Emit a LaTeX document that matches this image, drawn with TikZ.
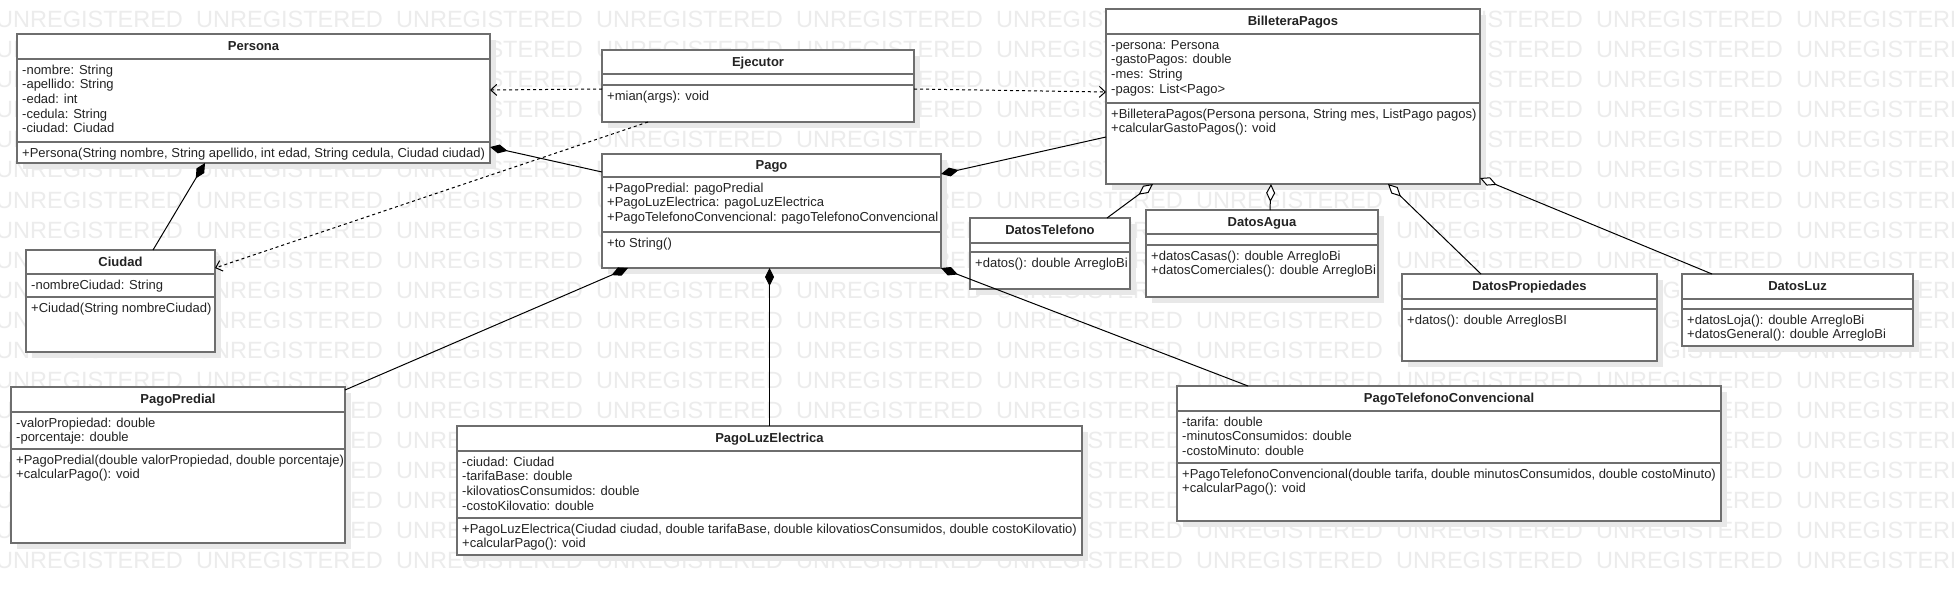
\documentclass[tikz,border=0pt]{standalone}
\usepackage{fontspec}
\setmainfont{Liberation Sans}
\usetikzlibrary{arrows.meta,shadows}

\definecolor{boxgray}{RGB}{110,110,110}
\definecolor{textgray}{RGB}{35,35,35}
\definecolor{wmgray}{RGB}{236,236,236}
\definecolor{shadowgray}{RGB}{232,232,232}

\def\memberfont{\fontsize{13}{14.7}\selectfont}
\def\titlefont{\bfseries\fontsize{13}{14.7}\selectfont}
\def\memstrut{\rule{0pt}{10pt}}
\def\wmtile{\makebox[200pt][l]{UNREGISTERED}}
\def\wmrow{\wmtile\wmtile\wmtile\wmtile\wmtile\wmtile\wmtile\wmtile\wmtile\wmtile}

\begin{document}
\begin{tikzpicture}[x=1pt, y=-1pt,
  nodes = {font=\memberfont, text=textgray},
  classbox/.style = {draw=boxgray, line width=1.3pt, fill=white, anchor=north west,
    inner sep=0pt, outer sep=0pt,
    drop shadow={shadow xshift=6pt, shadow yshift=-6pt, fill=shadowgray, opacity=1}},
  classname/.style = {font=\titlefont, text height=9.5pt, text depth=1pt, inner sep=0pt},
  members/.style = {anchor=north west, align=left, inner sep=0pt},
  watermark/.style = {font=\fontsize{23.5}{23.5}\selectfont, text=wmgray, anchor=base west, inner sep=0pt},
  compose/.style = {draw=black, line width=1pt, {Diamond[length=18pt,width=9pt]}-},
  aggreg/.style = {draw=black, line width=1pt, {Diamond[length=18pt,width=9pt,fill=white]}-},
  depend/.style = {draw=black, line width=1pt, dash pattern=on 3pt off 3pt,
    -{Straight Barb[length=6pt,width=11pt]}}]

\fill[white] (0,0) rectangle (1954,596);
\useasboundingbox (0,0) rectangle (1954,596);

% watermark rows
\foreach \k in {0,...,18}
  \node[watermark] (wm\k) at (-4,{28+30*\k}) {\wmrow};

% class boxes: id/title/left/top/right/bottom/divider 1/divider 2
\foreach \id/\title/\l/\t/\r/\b/\da/\db in {
    persona/Persona/17/34/490/163/59/142,
    ejecutor/Ejecutor/602/50/914/122/74/85,
    pago/Pago/602/154/941/268/177/232,
    billetera/BilleteraPagos/1106/9/1480/184/34/103,
    datostel/DatosTelefono/970/218/1130/289/243/252,
    datosagua/DatosAgua/1146/210/1378/297/234/245,
    datosprop/DatosPropiedades/1402/274/1657/361/299/309,
    datosluz/DatosLuz/1682/274/1913/346/299/309,
    ciudad/Ciudad/26/250/215/352/274/297,
    predial/PagoPredial/11/387/345/543/412/449,
    luz/PagoLuzElectrica/457/426/1082/555/451/518,
    telefono/PagoTelefonoConvencional/1177/386/1721/521/411/463%
  } {
    \node[classbox, minimum width={(\r-\l)*1pt}, minimum height={(\b-\t)*1pt}] (\id) at (\l,\t) {};
    \draw[boxgray, line width=1.3pt] (\l,\da) -- (\r,\da) (\l,\db) -- (\r,\db); % compartments
    \node[classname] (\id-name) at ({(\l+\r)/2},{(\t+\da)/2}) {\title};
  }

% attributes and operations
\node[members] (persona-a) at (22,64) {\memstrut-nombre: String\\-apellido: String\\-edad: int\\-cedula: String\\-ciudad: Ciudad};
\node[members] (persona-m) at (22,147) {\memstrut+Persona(String nombre, String apellido, int edad, String cedula, Ciudad ciudad)};
\node[members] (ejecutor-m) at (607,90) {\memstrut+mian(args): void};
\node[members] (pago-a) at (607,182) {\memstrut+PagoPredial: pagoPredial\\+PagoLuzElectrica: pagoLuzElectrica\\+PagoTelefonoConvencional: pagoTelefonoConvencional};
\node[members] (pago-m) at (607,237) {\memstrut+to String()};
\node[members] (billetera-a) at (1111,39) {\memstrut-persona: Persona\\-gastoPagos: double\\-mes: String\\-pagos: List<Pago>};
\node[members] (billetera-m) at (1111,108) {\memstrut+BilleteraPagos(Persona persona, String mes, ListPago pagos)\\+calcularGastoPagos(): void};
\node[members] (datostel-m) at (975,257) {\memstrut+datos(): double ArregloBi};
\node[members] (datosagua-m) at (1151,250) {\memstrut+datosCasas(): double ArregloBi\\+datosComerciales(): double ArregloBi};
\node[members] (datosprop-m) at (1407,314) {\memstrut+datos(): double ArreglosBI};
\node[members] (datosluz-m) at (1687,314) {\memstrut+datosLoja(): double ArregloBi\\+datosGeneral(): double ArregloBi};
\node[members] (ciudad-a) at (31,279) {\memstrut-nombreCiudad: String};
\node[members] (ciudad-m) at (31,302) {\memstrut+Ciudad(String nombreCiudad)};
\node[members] (predial-a) at (16,417) {\memstrut-valorPropiedad: double\\-porcentaje: double};
\node[members] (predial-m) at (16,454) {\memstrut+PagoPredial(double valorPropiedad, double porcentaje)\\+calcularPago(): void};
\node[members] (luz-a) at (462,456) {\memstrut-ciudad: Ciudad\\-tarifaBase: double\\-kilovatiosConsumidos: double\\-costoKilovatio: double};
\node[members] (luz-m) at (462,523) {\memstrut+PagoLuzElectrica(Ciudad ciudad, double tarifaBase, double kilovatiosConsumidos, double costoKilovatio)\\+calcularPago(): void};
\node[members] (telefono-a) at (1182,416) {\memstrut-tarifa: double\\-minutosConsumidos: double\\-costoMinuto: double};
\node[members] (telefono-m) at (1182,468) {\memstrut+PagoTelefonoConvencional(double tarifa, double minutosConsumidos, double costoMinuto)\\+calcularPago(): void};

% dependencies
\draw[depend] ([yshift=-3pt]ejecutor.west) -- ([yshift=8.5pt]persona.east);
\draw[depend] ([yshift=-3pt]ejecutor.east) -- ([yshift=4.5pt]billetera.west);
\draw[depend] ([xshift=-110pt]ejecutor.south) -- ([yshift=-18pt]ciudad.north east);

% compositions
\draw[compose] ([yshift=-48.5pt]persona.east) -- ([yshift=39pt]pago.west);
\draw[compose] ([xshift=-48.5pt]persona.south) -- ([xshift=32.5pt]ciudad.north);
\draw[compose] ([yshift=37pt]pago.east) -- ([yshift=-40.5pt]billetera.west);
\draw[compose] ([xshift=26pt]pago.south west) -- ([yshift=-3pt]predial.north east);
\draw[compose] ([xshift=-2pt]pago.south) -- (luz.north);
\draw[compose] (pago.south east) -- ([xshift=71pt]telefono.north west);

% aggregations
\draw[aggreg] ([xshift=47pt]billetera.south west) -- ([xshift=137pt]datostel.north west);
\draw[aggreg] ([xshift=-22pt]billetera.south) -- ([xshift=8pt]datosagua.north);
\draw[aggreg] ([xshift=-92pt]billetera.south east) -- ([xshift=79pt]datosprop.north west);
\draw[aggreg] ([yshift=6pt]billetera.south east) -- ([xshift=30pt]datosluz.north west);
\end{tikzpicture}
\end{document}
